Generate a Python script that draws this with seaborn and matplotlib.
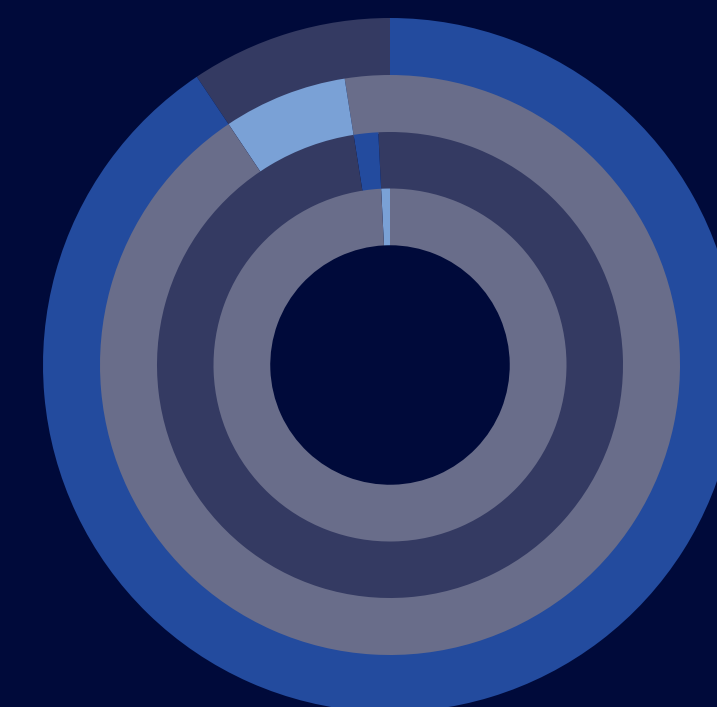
import matplotlib
matplotlib.use("Agg")
import matplotlib.pyplot as plt
import seaborn as sns

# Data: share (%) of each segment, counter-clockwise from 12 o'clock, inner ring first
ring1_values = [0.8, 99.2]
ring1_colors = ["light", "gray"]
ring2_values = [0.8, 1.7, 97.5]
ring2_colors = ["dark", "blue", "dark"]
ring3_values = [2.5, 6.9, 90.6]
ring3_colors = ["gray", "light", "gray"]
ring4_values = [9.4, 90.6]
ring4_colors = ["dark", "blue"]

palette = {
    "blue": "#234b9e",
    "dark": "#343a62",
    "gray": "#696d8a",
    "light": "#7aa1d6",
}
bg = "#000a3a"

sns.set_theme(style="white", rc={"figure.facecolor": bg, "axes.facecolor": bg})

W, H = 717, 707
fig = plt.figure(figsize=(W / 100, H / 100), dpi=100)
ax = fig.add_axes([0, 0, 1, 1])
ax.set_facecolor(bg)

R = 347.0
cx, cy = 390.0, 365.0
width = 56.75 / R
overlap = 2.0 / R

rings = [
    (ring1_values, ring1_colors, 176.5 / R, width),
    (ring2_values, ring2_colors, 233.0 / R, width + overlap),
    (ring3_values, ring3_colors, 290.0 / R, width + overlap),
    (ring4_values, ring4_colors, 1.0, width + overlap),
]
# draw outer rings first so inner rings cover the small overlap (no seams)
for vals, cols, rad, w in reversed(rings):
    ax.pie(vals, colors=[palette[c] for c in cols], radius=rad, startangle=90,
           counterclock=True, normalize=True,
           wedgeprops=dict(width=w, linewidth=0, antialiased=True))

ax.set_xlim(-cx / R, (W - cx) / R)
ax.set_ylim(-(H - cy) / R, cy / R)
ax.set_aspect("auto")
ax.axis("off")

fig.savefig("out.png", dpi=100, facecolor=bg)
